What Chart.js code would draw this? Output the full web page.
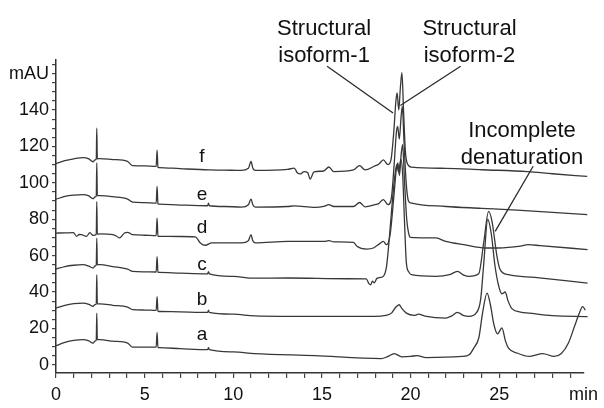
<!DOCTYPE html>
<html><head><meta charset="utf-8">
<script src="https://cdn.jsdelivr.net/npm/chart.js@4.4.1/dist/chart.umd.min.js"></script>
<style>html,body{margin:0;padding:0;background:#fff;}#wrap{width:604px;height:408px;}</style>
</head><body><div id="wrap"><canvas id="c" width="604" height="408"></canvas></div>
<script>
// [time (min), absorbance (mAU)]
const traceA = [[0,10.5],[0.5,12.3],[1.0,13.4],[1.53,13.8],[1.85,13.1],[2.09,11.9],[2.2,13],[2.27,13.6],[2.3,28.4],[2.33,13.8],[2.47,13.8],[3.2,13],[4.04,11.9],[4.32,9.7],[5.0,9.7],[5.65,9.7],[5.7,17.8],[5.75,9.4],[5.81,9.4],[7.0,8.9],[8.55,8.3],[8.6,9.4],[8.65,8.3],[10,7.1],[11.2,6.2],[14.6,5],[18.34,3.4],[18.7,4.5],[19.08,6.2],[19.5,4.4],[20.0,4.6],[20.37,5.1],[20.87,4],[22.9,4.6],[23.3,5.5],[23.56,9.2],[23.85,15],[24.05,28],[24.31,39.4],[24.5,33],[24.7,22],[24.9,17],[25.15,20.3],[25.35,13],[25.52,9.2],[26.0,6.5],[26.73,4.6],[27.45,6.2],[28.1,4.6],[28.5,6.2],[28.9,12],[29.24,21],[29.5,28],[29.7,32],[29.85,30],[29.98,26.6]];
const traceB = [[0,31.2],[0.5,32.7],[1.0,33.6],[1.53,33.9],[1.85,33.2],[2.09,32.1],[2.2,33.1],[2.27,33.4],[2.3,49.5],[2.33,33.5],[2.47,33.5],[3.2,32.7],[4.04,31.7],[4.32,30.3],[5.0,30.1],[5.65,29.9],[5.7,37.5],[5.75,29.5],[5.81,29.3],[7.0,29.1],[8.55,28.8],[8.6,30],[8.65,28.8],[10,27.8],[11.2,26.9],[14.73,26.6],[18.0,26.6],[18.6,27.2],[18.92,28.4],[19.15,31.5],[19.35,33],[19.5,31],[19.76,28.4],[20.2,27.2],[20.45,27.8],[20.8,26.8],[21.98,25.7],[22.3,26.8],[22.64,28.8],[23.0,27],[23.29,26.6],[23.7,28.5],[23.95,36],[24.12,55],[24.35,80],[24.55,72],[24.75,55],[24.95,44],[25.15,39],[25.33,40],[25.5,35],[25.7,31],[26.2,29],[26.7,28.4],[28,27],[29.98,26.5]];
const traceC = [[0,52.6],[0.5,54],[1.0,54.7],[1.53,55],[1.85,54.2],[2.09,53.2],[2.2,54.3],[2.27,54.8],[2.3,69.6],[2.33,55],[2.47,55],[3.2,54],[4.04,52.6],[4.32,51.3],[5.0,51.1],[5.65,51],[5.7,59.5],[5.75,50.9],[5.81,50.8],[7.0,50.4],[8.55,50],[8.6,51.2],[8.65,50],[10,48.6],[11.2,47.6],[13.06,47.7],[16.4,47.3],[17.5,47.2],[17.65,44.6],[17.75,44],[17.85,46],[17.95,45],[18.1,47.5],[18.3,48],[18.46,48.6],[18.64,54],[18.82,72],[18.97,90],[19.1,103],[19.22,110],[19.32,106],[19.45,113],[19.55,105],[19.65,80],[19.76,56],[19.9,51],[20.04,49.5],[21.43,48.6],[22.2,49.5],[22.64,51.3],[23.0,49.3],[23.29,48.6],[23.84,50],[24.12,67],[24.4,84.3],[24.59,78.8],[24.87,59.6],[25.05,52.3],[25.52,49.5],[27,48],[29.98,44.9]];
const traceD = [[0,72.4],[0.5,72.5],[0.98,72.6],[1.17,70.6],[1.3,71.6],[1.44,71.5],[1.72,70.6],[1.91,72.6],[2.09,71.1],[2.27,71.6],[2.3,89.7],[2.33,71.8],[2.47,71.9],[3.21,71.5],[3.4,70.8],[3.58,69.7],[3.86,72.4],[4.04,72.8],[4.32,71.5],[5.0,71.2],[5.65,71],[5.7,80.6],[5.75,70.7],[5.81,70.6],[7.0,70.5],[7.86,70.3],[8.14,67],[8.42,65.7],[8.78,67],[10.46,67],[10.85,68.2],[11.0,71.5],[11.1,68.2],[11.25,67],[13.06,67.8],[15.1,67.8],[15.39,68.2],[15.67,67.6],[16.78,67.3],[16.97,65.1],[17.52,63.6],[17.9,64.2],[18.26,66.6],[18.46,67.8],[18.64,66],[18.85,72],[19.05,92],[19.2,108],[19.28,111],[19.37,104],[19.47,116],[19.55,121],[19.65,102],[19.78,80],[19.92,71],[20.0,70],[21.43,69.7],[21.98,67.8],[23,66],[24.22,64.2],[24.94,64.2],[26.2,65.2],[26.63,66],[27.3,65.5],[29.98,63.3]];
const traceE = [[0,91],[0.5,92.5],[1.0,93.2],[1.53,93.5],[1.85,92.8],[2.09,91.3],[2.2,92.3],[2.27,92.8],[2.3,111],[2.33,93],[2.47,93],[3.2,92.4],[4.04,91.1],[4.32,89.4],[5.0,89.1],[5.65,88.8],[5.7,98],[5.75,88.5],[5.81,88.3],[7.0,87.8],[8.55,87.4],[8.6,88.8],[8.65,87.4],[9.5,87],[10.46,86.7],[10.85,88],[11.0,91],[11.1,88],[11.25,86.7],[13.06,87],[13.43,87.3],[14.6,86.5],[15.1,87],[15.39,88],[15.67,87],[16.78,87],[17.12,89.2],[17.43,86.8],[17.99,88],[18.2,88.6],[18.46,90.8],[18.73,88],[18.92,92],[19.07,110],[19.2,128],[19.27,131],[19.36,124],[19.46,136],[19.53,142],[19.63,122],[19.75,100],[19.88,90],[20.0,89],[22,87],[24,86],[26,85],[28,83.8],[29.96,82.5]];
const traceF = [[0,110.6],[0.5,112.2],[1.0,113.2],[1.53,113.9],[1.85,113.2],[2.09,111.6],[2.2,112.6],[2.27,113],[2.3,130],[2.33,113.2],[2.47,113.3],[3.2,112.8],[4.03,111.8],[4.31,109.5],[5.0,109.3],[5.65,109],[5.7,118],[5.75,108.6],[5.81,108.4],[7.0,107.8],[8.6,107.1],[9.5,107],[10.44,106.8],[10.85,108],[11.0,111.8],[11.1,108],[11.25,106.8],[13.06,107.4],[13.43,108.1],[13.62,105.4],[13.79,104.9],[13.99,106.2],[14.2,105.5],[14.33,102.1],[14.55,106],[15.1,106.5],[15.39,108.7],[15.67,106.2],[16.78,107.1],[17.12,109.5],[17.43,107.1],[17.99,109.3],[18.2,110.2],[18.46,112.6],[18.73,110],[18.9,113],[19.05,128],[19.17,145],[19.24,149.4],[19.33,140],[19.42,152],[19.51,160.6],[19.6,140],[19.7,118],[19.8,111],[20.05,108.6],[21.98,108],[24,107.2],[26.6,106.2],[28,105],[29.96,103.5]];

const traceNames = ['a','b','c','d','e','f'];
const nameTime = 8.23;
const nameValues = [16.5,35.8,55,75.2,93.5,114.6];

const calloutTexts = [['Structural','isoform-1'],['Structural','isoform-2'],['Incomplete','denaturation']];
const calloutAt = [[15.12,181.5],[23.32,181.5],[26.28,125.4]];
const calloutLeaders = [[15.29,164.1,19.01,138.4],[22.82,164.1,19.42,142.5],[26.91,109.1,24.77,73.3]];

const xMin = 0, xMax = 29.75, yMin = -4.5, yMax = 167.5;
const yLabelValues = [0,20,40,60,80,100,120,140];
const yUnitLabel = 'mAU', yUnitAt = 160;
const xLabelValues = [0,5,10,15,20,25];
const xUnitLabel = 'min';

const FONT = '"Liberation Sans", Arial, Helvetica, sans-serif';
const traces = [traceA,traceB,traceC,traceD,traceE,traceF];

const annotPlugin = {
  id: 'annot',
  afterDatasetsDraw(chart) {
    const {ctx} = chart; const x = chart.scales.x, y = chart.scales.y;
    ctx.save();
    ctx.fillStyle = '#111';
    ctx.font = '19px ' + FONT;
    ctx.textAlign = 'center'; ctx.textBaseline = 'middle';
    traceNames.forEach((n,i) => ctx.fillText(n, x.getPixelForValue(nameTime), y.getPixelForValue(nameValues[i])));
    ctx.strokeStyle = '#2a2a2a'; ctx.lineWidth = 1.3;
    calloutLeaders.forEach(([x1,y1,x2,y2]) => {
      ctx.beginPath();
      ctx.moveTo(x.getPixelForValue(x1), y.getPixelForValue(y1));
      ctx.lineTo(x.getPixelForValue(x2), y.getPixelForValue(y2));
      ctx.stroke();
    });
    ctx.font = '22px ' + FONT; ctx.textBaseline = 'alphabetic';
    calloutTexts.forEach((lines,i) => {
      const px = x.getPixelForValue(calloutAt[i][0]);
      const py = y.getPixelForValue(calloutAt[i][1]);
      lines.forEach((t,j) => ctx.fillText(t, px, py + j*27));
    });
    ctx.restore();
  }
};

new Chart(document.getElementById('c'), {
  type: 'line',
  data: {
    datasets: traces.map((t,i) => ({
      label: traceNames[i],
      data: t.map(([tx,ty]) => ({x: tx, y: ty})),
      borderColor: '#383838', borderWidth: 1.3, pointRadius: 0,
      cubicInterpolationMode: 'monotone', fill: false, clip: 10
    }))
  },
  options: {
    responsive: false, animation: false, events: [],
    layout: {padding: {top: 60, right: 15, left: 0, bottom: 0}},
    plugins: {legend: {display: false}, tooltip: {enabled: false}},
    scales: {
      x: {
        type: 'linear', min: xMin, max: xMax,
        afterBuildTicks: s => { const a = []; for (let v = 0; v <= 29; v++) a.push({value: v}); a.push({value: xMax}); s.ticks = a; },
        afterFit: s => { s.height = 35; },
        border: {display: true, color: '#333', width: 1.5},
        grid: {drawOnChartArea: false, drawTicks: true, tickLength: 5, lineWidth: 1.2,
               color: c => (c.tick && c.tick.value === xMax) ? 'rgba(0,0,0,0)' : '#444'},
        ticks: {autoSkip: false, maxRotation: 0, minRotation: 0, padding: 6, color: '#111',
                font: {family: FONT, size: 18},
                callback: v => v === xMax ? xUnitLabel : (xLabelValues.includes(v) ? String(v) : '')}
      },
      y: {
        type: 'linear', min: yMin, max: yMax,
        afterBuildTicks: s => { const a = []; for (let v = 0; v <= 165; v += 5) a.push({value: v}); s.ticks = a; },
        afterFit: s => { s.width = 56; },
        border: {display: true, color: '#333', width: 1.5},
        grid: {drawOnChartArea: false, drawTicks: true, tickLength: 4, lineWidth: 1.2, color: '#444'},
        ticks: {autoSkip: false, padding: 3, color: '#111', font: {family: FONT, size: 18},
                callback: v => v === yUnitAt ? yUnitLabel : (yLabelValues.includes(v) ? String(v) : '')}
      }
    }
  },
  plugins: [annotPlugin]
});
</script></body></html>
